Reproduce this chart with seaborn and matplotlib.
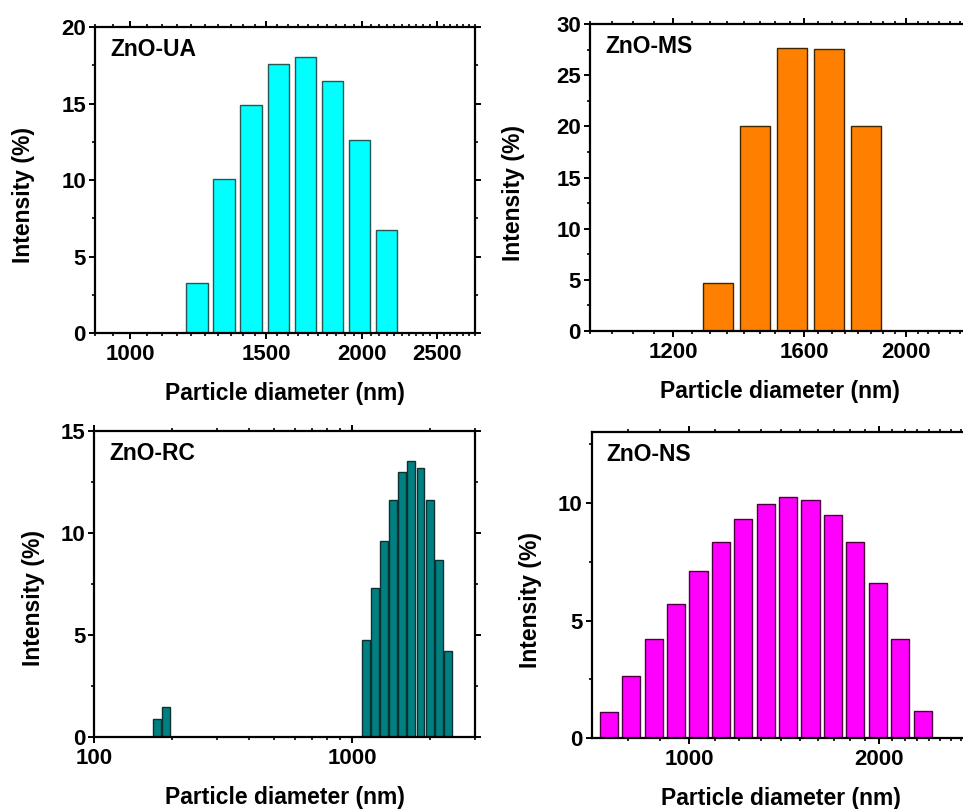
import numpy as np
import matplotlib
matplotlib.use("Agg")
import matplotlib.pyplot as plt
from matplotlib.ticker import FixedLocator, FuncFormatter, NullFormatter
import seaborn as sns

# ---------------- data ----------------
ua_d = [1220, 1322, 1435, 1557, 1686, 1828, 1981, 2149]
ua_i = [3.3, 10.1, 14.9, 17.6, 18.05, 16.45, 12.65, 6.75]

ms_d = [1324, 1434, 1557, 1687, 1830]
ms_i = [4.66, 20.0, 27.65, 27.58, 20.0]

rc_small_d = [175, 190]
rc_small_i = [0.90, 1.47]
rc_d = [1131, 1226, 1327, 1440, 1564, 1696, 1842, 2006, 2168, 2350]
rc_i = [4.77, 7.30, 9.63, 11.62, 12.98, 13.55, 13.17, 11.62, 8.68, 4.21]

ns_d = [745, 809, 878, 952, 1034, 1122, 1218, 1322, 1435, 1557, 1691, 1834, 1992, 2161, 2346]
ns_i = [1.10, 2.65, 4.22, 5.72, 7.12, 8.33, 9.32, 9.96, 10.24, 10.13, 9.50, 8.35, 6.61, 4.22, 1.17]

labels = ["ZnO-UA", "ZnO-MS", "ZnO-RC", "ZnO-NS"]
xlabel = "Particle diameter (nm)"
ylabel = "Intensity (%)"

# ---------------- style ----------------
sns.set_theme(style="ticks")
plt.rcParams["font.family"] = ["Liberation Sans", "DejaVu Sans"]
plt.rcParams["font.weight"] = "bold"
plt.rcParams["axes.labelweight"] = "bold"
plt.rcParams["axes.linewidth"] = 1.6
for k in ["text.color", "axes.labelcolor", "xtick.color", "ytick.color",
          "axes.edgecolor", "xtick.labelcolor", "ytick.labelcolor"]:
    plt.rcParams[k] = "black"

fig = plt.figure(figsize=(9.63, 8.09), dpi=100)
W, H = 963.0, 809.0


def add_axes(l, r, t, b):
    return fig.add_axes([l / W, 1 - b / H, (r - l) / W, (b - t) / H])


def log_edges(d):
    lg = np.log10(np.asarray(d, dtype=float))
    mids = (lg[:-1] + lg[1:]) / 2
    first = lg[0] - (mids[0] - lg[0])
    last = lg[-1] + (lg[-1] - mids[-1])
    return [float(e) for e in np.concatenate([[first], mids, [last]])]


def bars(ax, d, v, color, edge, shrink):
    sns.histplot(x=d, weights=v, bins=log_edges(d), log_scale=True,
                 stat="count", shrink=shrink, color=color, edgecolor=edge,
                 linewidth=1.0, alpha=1.0, ax=ax)


def style(ax, xlim, xmaj, xmin, ylim, ymaj, ymin, name, ylab_x, ylab_y):
    ax.set_xscale("log")
    ax.set_xlim(*xlim)
    ax.set_ylim(*ylim)
    ax.xaxis.set_major_locator(FixedLocator(xmaj))
    ax.xaxis.set_minor_locator(FixedLocator(xmin))
    ax.xaxis.set_major_formatter(FuncFormatter(lambda v, p: f"{v:.0f}"))
    ax.xaxis.set_minor_formatter(NullFormatter())
    ax.yaxis.set_major_locator(FixedLocator(ymaj))
    ax.yaxis.set_minor_locator(FixedLocator(ymin))
    ax.yaxis.set_major_formatter(FuncFormatter(lambda v, p: f"{v:.0f}"))
    for s in ax.spines.values():
        s.set_visible(True)
        s.set_linewidth(1.6)
        s.set_color("black")
    ax.tick_params(which="major", direction="out", length=4, width=1.4,
                   labelsize=16, top=True, right=True, color="black",
                   labelcolor="black")
    ax.tick_params(axis="x", which="major", pad=4)
    ax.tick_params(axis="y", which="major", pad=2.5)
    ax.tick_params(which="minor", direction="out", length=2.3, width=1.2,
                   top=True, right=True, color="black")
    for lab in ax.get_xticklabels() + ax.get_yticklabels():
        lab.set_fontweight("bold")
    ax.set_xlabel(xlabel, fontsize=16.5, fontweight="bold", color="black")
    ax.set_ylabel(ylabel, fontsize=16.5, fontweight="bold", color="black")
    ax.xaxis.set_label_coords(0.5, -0.158)
    ax.yaxis.set_label_coords(ylab_x, ylab_y)
    ax.text(0.04, 0.927, name, transform=ax.transAxes, fontsize=16.5,
            fontweight="bold", ha="left", va="center", color="black")
    ax.set_facecolor("white")
    ax.grid(False)


# Panel 1: ZnO-UA
ax1 = add_axes(95, 475, 27, 333.3)
bars(ax1, ua_d, ua_i, "#00FFFF", "#2a5555", 0.80)
style(ax1, (900, 2800), [1000, 1500, 2000, 2500],
      list(range(900, 2801, 50)), (0, 20), [0, 5, 10, 15, 20],
      [2.5, 7.5, 12.5, 17.5], labels[0], -0.158, 0.45)

# Panel 2: ZnO-MS
ax2 = add_axes(590, 970, 24, 331)
bars(ax2, ms_d, ms_i, "#FF8000", "#3d2600", 0.81)
style(ax2, (1000, 2300), [1200, 1600, 2000],
      list(range(1000, 2301, 50)), (0, 30), [0, 5, 10, 15, 20, 25, 30],
      [2.5, 7.5, 12.5, 17.5, 22.5, 27.5], labels[1], -0.171, 0.449)

# Panel 3: ZnO-RC
ax3 = add_axes(94.3, 475, 431, 737.3)
bars(ax3, rc_small_d, rc_small_i, "#008080", "#0f3030", 0.85)
bars(ax3, rc_d, rc_i, "#008080", "#0f3030", 0.85)
style(ax3, (100, 3000), [100, 1000],
      [200, 300, 400, 500, 600, 700, 800, 900, 2000, 3000], (0, 15),
      [0, 5, 10, 15], [2.5, 7.5, 12.5], labels[2], -0.13, 0.454)

# Panel 4: ZnO-NS
ax4 = add_axes(591.7, 971, 432.3, 738.3)
bars(ax4, ns_d, ns_i, "#FF00FF", "#4d0040", 0.81)
style(ax4, (700, 2800), [1000, 2000],
      [800, 900, 1100, 1200, 1300, 1400, 1500, 1600, 1700, 1800, 1900,
       2100, 2200, 2300, 2400, 2500, 2600, 2700], (0, 13),
      [0, 5, 10], [2.5, 7.5, 12.5], labels[3], -0.132, 0.452)

fig.savefig("out.png", dpi=100, facecolor="white")
